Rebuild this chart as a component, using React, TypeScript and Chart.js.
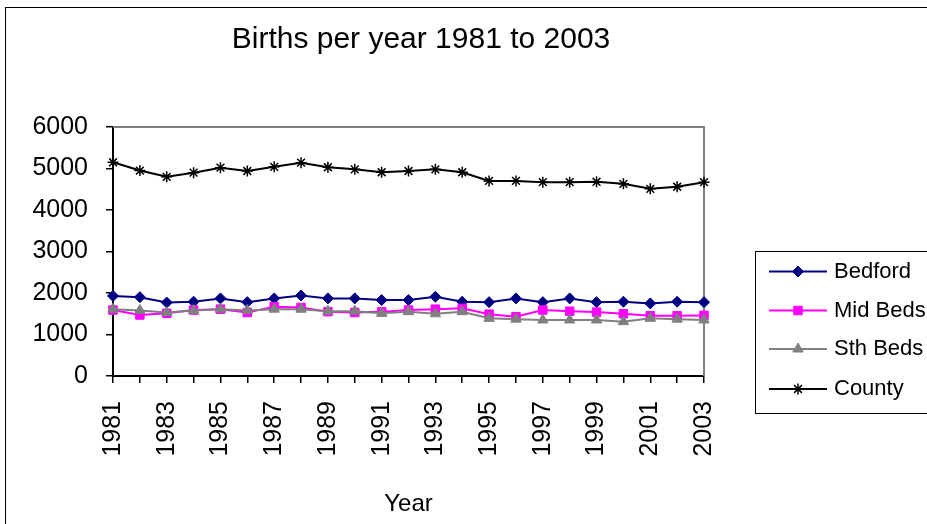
import React, { useEffect, useRef } from "react";
import { Chart, registerables } from "chart.js";
import { drawPoint } from "chart.js/helpers";

Chart.register(...registerables);

const years = ["1981", "1982", "1983", "1984", "1985", "1986", "1987", "1988", "1989", "1990", "1991", "1992", "1993", "1994", "1995", "1996", "1997", "1998", "1999", "2000", "2001", "2002", "2003"];
const bedford = [1930, 1900, 1770, 1790, 1870, 1780, 1870, 1940, 1870, 1870, 1830, 1830, 1910, 1790, 1780, 1870, 1780, 1870, 1780, 1790, 1750, 1790, 1780];
const midBeds = [1590, 1470, 1510, 1590, 1610, 1530, 1670, 1650, 1550, 1530, 1550, 1590, 1610, 1630, 1490, 1430, 1590, 1560, 1540, 1500, 1450, 1450, 1460];
const sthBeds = [1610, 1580, 1530, 1580, 1610, 1580, 1610, 1610, 1560, 1560, 1510, 1550, 1500, 1550, 1390, 1370, 1350, 1350, 1350, 1310, 1390, 1370, 1350];
const county = [5150, 4950, 4800, 4900, 5020, 4940, 5040, 5140, 5030, 4980, 4910, 4940, 4980, 4910, 4700, 4700, 4670, 4670, 4680, 4630, 4510, 4560, 4670];
const yTicks = [0, 1000, 2000, 3000, 4000, 5000, 6000];
const titleText = "Births per year 1981 to 2003";
const xTitle = "Year";

export default function App() {
  const ref = useRef<HTMLCanvasElement>(null);

  useEffect(() => {
    if (!ref.current) return;

    const background = {
      id: "bg",
      beforeDraw(chart: any) {
        const { ctx, width, height } = chart;
        ctx.save();
        ctx.fillStyle = "#ffffff";
        ctx.fillRect(0, 0, width, height);
        ctx.strokeStyle = "#000000";
        ctx.lineWidth = 1;
        ctx.strokeRect(5.5, 7.5, width + 20, height + 20);
        ctx.fillStyle = "#000000";
        ctx.font = "30px 'Liberation Sans'";
        ctx.textAlign = "center";
        ctx.textBaseline = "middle";
        ctx.fillText(titleText, 421, 40);
        ctx.restore();
      },
    };

    const frame = {
      id: "frame",
      beforeDatasetsDraw(chart: any) {
        const { ctx, chartArea: a } = chart;
        ctx.save();
        ctx.strokeStyle = "#808080";
        ctx.lineWidth = 2;
        ctx.beginPath();
        ctx.moveTo(a.left, a.top);
        ctx.lineTo(a.right, a.top);
        ctx.lineTo(a.right, a.bottom);
        ctx.stroke();
        ctx.restore();
      },
    };

    const boxLegend = {
      id: "boxLegend",
      afterDraw(chart: any) {
        const { ctx } = chart;
        ctx.save();
        ctx.strokeStyle = "#000000";
        ctx.lineWidth = 1;
        ctx.strokeRect(755.5, 251.5, 220, 162);
        const rows = [271.5, 310.5, 349, 389];
        chart.data.datasets.forEach((ds: any, i: number) => {
          const y = rows[i];
          ctx.strokeStyle = ds.borderColor;
          ctx.lineWidth = 2;
          ctx.beginPath();
          ctx.moveTo(769, y);
          ctx.lineTo(827, y);
          ctx.stroke();
          ctx.fillStyle = ds.pointBackgroundColor;
          ctx.strokeStyle = ds.pointBorderColor;
          ctx.lineWidth = ds.pointBorderWidth;
          drawPoint(ctx, { pointStyle: ds.pointStyle, radius: ds.pointRadius, rotation: 0, borderWidth: ds.pointBorderWidth }, 798, y);
          ctx.fillStyle = "#000000";
          ctx.font = "22px 'Liberation Sans'";
          ctx.textAlign = "left";
          ctx.textBaseline = "middle";
          ctx.fillText(ds.label, 834, y);
        });
        ctx.restore();
      },
    };

    const tickFont = { family: "'Liberation Sans'", size: 25 };

    const chart = new Chart(ref.current, {
      type: "line",
      data: {
        labels: years,
        datasets: [
          { label: "Bedford", data: bedford, borderColor: "#000080", backgroundColor: "#000080", pointBackgroundColor: "#000080", pointBorderColor: "#000080", pointStyle: "rectRot", pointRadius: 5.5, pointBorderWidth: 1, borderWidth: 2, order: 4 },
          { label: "Mid Beds", data: midBeds, borderColor: "#ff00ff", backgroundColor: "#ff00ff", pointBackgroundColor: "#ff00ff", pointBorderColor: "#ff00ff", pointStyle: "rect", pointRadius: 6, pointBorderWidth: 1, borderWidth: 2, order: 3 },
          { label: "Sth Beds", data: sthBeds, borderColor: "#808080", backgroundColor: "#808080", pointBackgroundColor: "#808080", pointBorderColor: "#808080", pointStyle: "triangle", pointRadius: 6, pointBorderWidth: 1, borderWidth: 2, order: 2 },
          { label: "County", data: county, borderColor: "#000000", backgroundColor: "#000000", pointBackgroundColor: "#000000", pointBorderColor: "#000000", pointStyle: "star", pointRadius: 5.5, pointBorderWidth: 1.5, borderWidth: 2, order: 1 },
        ],
      },
      options: {
        responsive: false,
        animation: false,
        devicePixelRatio: 1,
        layout: { padding: { top: 127, right: 223, left: 0, bottom: 0 } },
        plugins: {
          legend: { display: false },
          title: { display: false },
          tooltip: { enabled: false },
        },
        elements: { line: { tension: 0 } },
        scales: {
          x: {
            type: "category",
            offset: false,
            grid: { display: true, drawOnChartArea: false, drawTicks: true, tickLength: 7, color: "#000000", lineWidth: 1.5, offset: false },
            border: { display: true, color: "#000000", width: 2 },
            ticks: {
              autoSkip: false,
              minRotation: 90,
              maxRotation: 90,
              padding: 18,
              color: "#000000",
              font: tickFont,
              callback: (_v: any, i: number) => (i % 2 === 0 ? years[i] : ""),
            },
            title: { display: true, text: xTitle, color: "#000000", font: { family: "'Liberation Sans'", size: 24 }, padding: { top: 4, bottom: 5 } },
            afterFit: (s: any) => { s.height = 148; },
          },
          y: {
            min: 0,
            max: 6000,
            afterBuildTicks: (s: any) => { s.ticks = yTicks.map((v) => ({ value: v })); },
            grid: { display: true, drawOnChartArea: false, drawTicks: true, tickLength: 7, color: "#000000", lineWidth: 1.5 },
            border: { display: true, color: "#000000", width: 2 },
            ticks: { padding: 18, color: "#000000", font: tickFont, callback: (v: any) => String(v) },
            afterFit: (s: any) => { s.width = 113; },
          },
        },
      },
      plugins: [background, frame, boxLegend],
    });

    return () => chart.destroy();
  }, []);

  return (
    <div style={{ position: "absolute", left: 0, top: 0, width: 927, height: 524, overflow: "hidden" }}>
      <canvas ref={ref} width={927} height={524} style={{ display: "block", width: 927, height: 524 }} />
    </div>
  );
}
